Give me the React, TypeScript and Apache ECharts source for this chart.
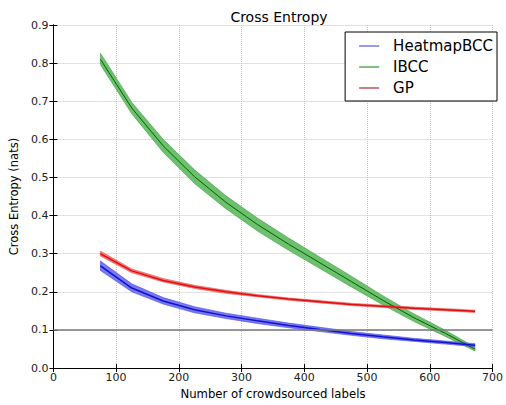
import React, { useEffect, useRef } from "react";
import * as echarts from "echarts";

const xs = [75, 125, 175, 225, 275, 325, 375, 425, 475, 525, 575, 625, 672];
const heatmapMean = [0.268, 0.21, 0.176, 0.153, 0.137, 0.124, 0.112, 0.101, 0.091, 0.082, 0.074, 0.067, 0.06];
const heatmapLow = [0.256, 0.2, 0.168, 0.145, 0.13, 0.117, 0.106, 0.096, 0.086, 0.077, 0.07, 0.063, 0.056];
const heatmapHigh = [0.281, 0.221, 0.185, 0.161, 0.144, 0.131, 0.118, 0.107, 0.096, 0.087, 0.078, 0.071, 0.064];
const ibccMean = [0.81, 0.682, 0.583, 0.502, 0.435, 0.377, 0.325, 0.276, 0.227, 0.178, 0.132, 0.091, 0.05];
const ibccLow = [0.796, 0.667, 0.566, 0.484, 0.418, 0.36, 0.309, 0.261, 0.213, 0.166, 0.122, 0.083, 0.045];
const ibccHigh = [0.826, 0.697, 0.6, 0.52, 0.452, 0.394, 0.341, 0.291, 0.241, 0.19, 0.142, 0.099, 0.055];
const gpMean = [0.3, 0.255, 0.23, 0.213, 0.2, 0.19, 0.181, 0.174, 0.167, 0.162, 0.157, 0.153, 0.149];
const gpLow = [0.294, 0.25, 0.226, 0.209, 0.196, 0.187, 0.178, 0.171, 0.164, 0.159, 0.154, 0.15, 0.146];
const gpHigh = [0.307, 0.26, 0.235, 0.217, 0.204, 0.193, 0.184, 0.177, 0.17, 0.165, 0.16, 0.156, 0.152];
const xTicks = [0, 100, 200, 300, 400, 500, 600, 700];
const yTicks = [0, 0.1, 0.2, 0.3, 0.4, 0.5, 0.6, 0.7, 0.8, 0.9];
const refLineValue = 0.1;

const pair = (ys: number[]) => xs.map((x, i) => [x, ys[i]]);

function band(name: string, lo: number[], hi: number[], color: string, stroke: string) {
  return {
    type: "custom",
    name: name + "_band",
    silent: true,
    z: 1,
    data: [[xs[0], lo[0]]],
    encode: { x: 0, y: 1 },
    renderItem: (_params: any, api: any) => {
      const pts: number[][] = [];
      for (let i = 0; i < xs.length; i++) pts.push(api.coord([xs[i], hi[i]]));
      for (let i = xs.length - 1; i >= 0; i--) pts.push(api.coord([xs[i], lo[i]]));
      return {
        type: "polygon",
        shape: { points: pts },
        style: { fill: color, stroke, lineWidth: 0.6 },
      };
    },
  };
}

export default function App() {
  const ref = useRef<HTMLDivElement>(null);
  useEffect(() => {
    if (!ref.current) return;
    const chart = echarts.init(ref.current, undefined, { renderer: "svg" });
    const font = "DejaVu Sans";
    const axisCommon = {
      axisLine: { show: true, lineStyle: { color: "#000", width: 1 } },
      axisTick: { show: true, inside: true, length: 4, lineStyle: { color: "#000" } },
    };
    const gridLine = { show: true, lineStyle: { type: "dotted", color: "#c4c4c4", width: 1 } };
    chart.setOption({
      animation: false,
      textStyle: { fontFamily: font },
      title: {
        text: "Cross Entropy",
        left: 274,
        top: 5,
        textAlign: "center",
        textStyle: { fontSize: 14, fontWeight: "normal", color: "#000", fontFamily: font },
      },
      grid: { left: 52, right: 6.5, top: 25, bottom: 33.5, show: false },
      legend: {
        orient: "vertical",
        right: 9,
        top: 32,
        padding: [6.5, 4, 5.5, 14],
        itemGap: 6,
        itemWidth: 20,
        itemHeight: 2,
        borderColor: "#000",
        borderWidth: 1,
        backgroundColor: "#fff",
        icon: "rect",
        textStyle: { fontSize: 15, color: "#000", fontFamily: font, padding: [0, 0, 0, 9] },
        data: [
          { name: "HeatmapBCC", itemStyle: { color: "#9a9ae8" } },
          { name: "IBCC", itemStyle: { color: "#80c080" } },
          { name: "GP", itemStyle: { color: "#d08080" } },
        ],
      },
      xAxis: [
        {
          type: "value",
          min: xTicks[0],
          max: xTicks[xTicks.length - 1],
          interval: 100,
          name: "Number of crowdsourced labels",
          nameLocation: "middle",
          nameGap: 19,
          nameTextStyle: { fontSize: 11.7, color: "#000", fontFamily: font },
          axisLabel: { fontSize: 11, color: "#222", margin: 4, fontFamily: font },
          splitLine: gridLine,
          ...axisCommon,
        },
        {
          type: "value",
          position: "top",
          min: xTicks[0],
          max: xTicks[xTicks.length - 1],
          interval: 100,
          axisLabel: { show: false },
          splitLine: { show: false },
          ...axisCommon,
        },
      ],
      yAxis: [
        {
          type: "value",
          min: yTicks[0],
          max: yTicks[yTicks.length - 1],
          interval: 0.1,
          name: "Cross Entropy (nats)",
          nameLocation: "middle",
          nameGap: 29,
          nameTextStyle: { fontSize: 11.5, color: "#000", fontFamily: font },
          axisLabel: {
            fontSize: 11,
            color: "#222",
            margin: 5,
            fontFamily: font,
            formatter: (v: number) => v.toFixed(1),
          },
          splitLine: gridLine,
          ...axisCommon,
        },
        {
          type: "value",
          position: "right",
          min: yTicks[0],
          max: yTicks[yTicks.length - 1],
          interval: 0.1,
          axisLabel: { show: false },
          splitLine: { show: false },
          ...axisCommon,
        },
      ],
      series: [
        band("ibcc", ibccLow, ibccHigh, "#6cc16c", "#3f9a3f"),
        band("gp", gpLow, gpHigh, "#f37f7f", "#e85050"),
        band("heat", heatmapLow, heatmapHigh, "#7878f0", "#4a4ae8"),
        {
          type: "line",
          name: "IBCC",
          data: pair(ibccMean),
          symbol: "none",
          lineStyle: { color: "#0a5a0a", width: 1 },
          itemStyle: { color: "#0a5a0a" },
          z: 3,
        },
        {
          type: "line",
          name: "GP",
          data: pair(gpMean),
          symbol: "none",
          lineStyle: { color: "#e01010", width: 1.5 },
          itemStyle: { color: "#e01010" },
          z: 3,
        },
        {
          type: "line",
          name: "HeatmapBCC",
          data: pair(heatmapMean),
          symbol: "none",
          lineStyle: { color: "#1010d0", width: 1.5 },
          itemStyle: { color: "#1010d0" },
          z: 3,
          markLine: {
            silent: true,
            symbol: "none",
            label: { show: false },
            lineStyle: { color: "#777", type: "solid", width: 1.5 },
            data: [{ yAxis: refLineValue }],
          },
        },
      ],
    });
    return () => chart.dispose();
  }, []);
  return (
    <div
      ref={ref}
      style={{ position: "absolute", left: 0, top: 0, width: 506, height: 405 }}
    />
  );
}
